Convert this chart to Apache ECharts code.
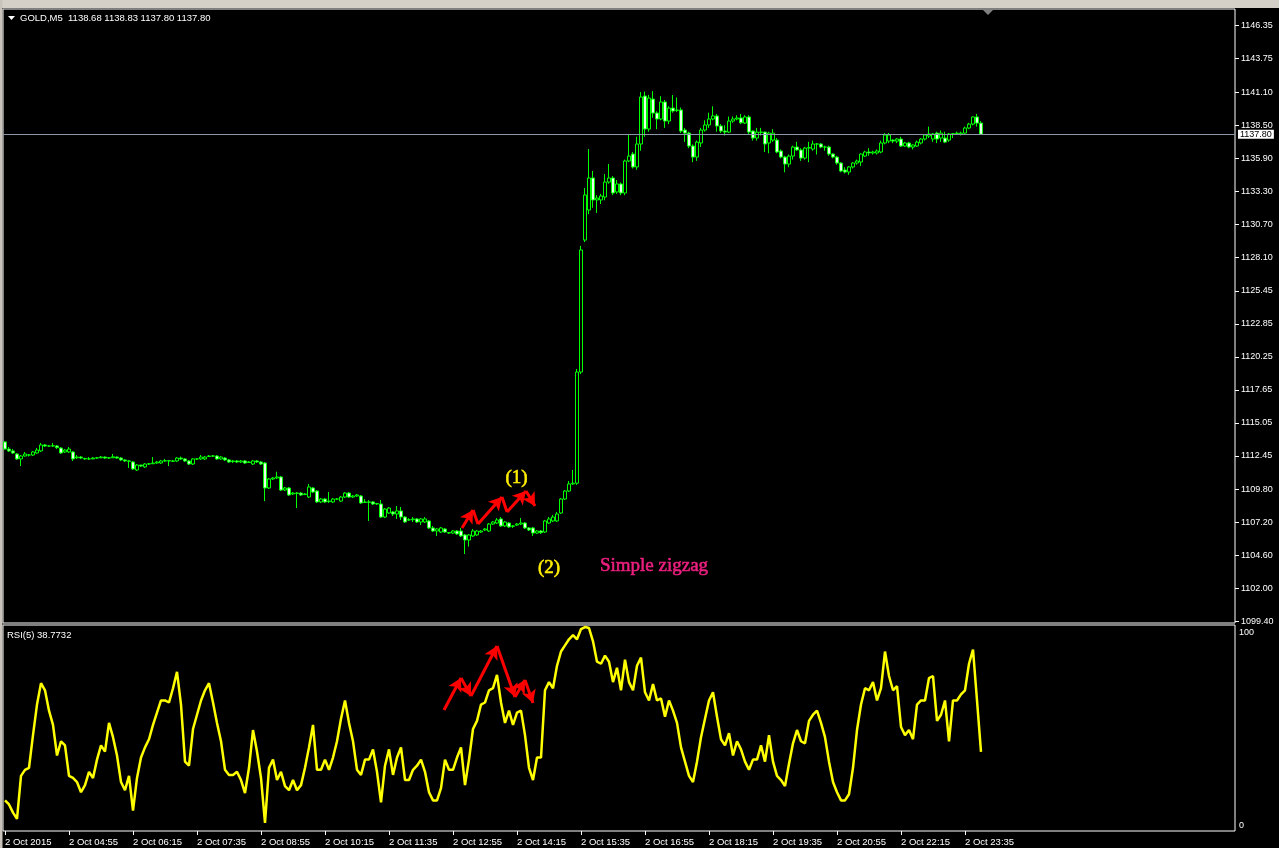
<!DOCTYPE html>
<html><head><meta charset="utf-8">
<script src="https://cdn.jsdelivr.net/npm/echarts@6/dist/echarts.min.js"></script>
<style>html,body{margin:0;padding:0;background:#000;overflow:hidden}#c{width:1279px;height:848px}</style>
</head><body><div id="c"></div>
<script>
// ---------- DATA ----------
const symbolName = 'GOLD,M5';
const timeLabels = ['2 Oct 2015','2 Oct 04:55','2 Oct 06:15','2 Oct 07:35','2 Oct 08:55','2 Oct 10:15','2 Oct 11:35','2 Oct 12:55','2 Oct 14:15','2 Oct 15:35','2 Oct 16:55','2 Oct 18:15','2 Oct 19:35','2 Oct 20:55','2 Oct 22:15','2 Oct 23:35'];
const priceTicks = [1146.35,1143.75,1141.10,1138.50,1135.90,1133.30,1130.70,1128.10,1125.45,1122.85,1120.25,1117.65,1115.05,1112.45,1109.80,1107.20,1104.60,1102.00,1099.40];
const rsiTicks = [0,100];
const lastPrice = 1137.80;
// [open, close, low, high]
const bars = [
[1113.55,1112.99,1112.95,1113.60],[1112.99,1112.84,1112.76,1113.15],[1112.84,1112.68,1112.60,1113.00],[1112.60,1112.21,1112.13,1112.68],
[1112.21,1112.44,1111.65,1112.52],[1112.44,1112.60,1112.40,1112.76],[1112.52,1112.52,1112.40,1112.60],[1112.52,1112.76,1112.44,1112.84],
[1112.68,1112.91,1112.60,1113.07],[1112.84,1113.31,1112.76,1113.47],[1113.31,1113.23,1113.15,1113.39],[1113.23,1113.23,1113.15,1113.31],
[1113.23,1113.25,1113.15,1113.47],[1113.23,1113.10,1113.00,1113.31],[1113.07,1112.68,1112.60,1113.15],[1112.76,1112.91,1112.68,1113.00],
[1112.76,1112.99,1112.68,1113.15],[1112.76,1112.21,1112.05,1112.84],[1112.30,1112.36,1112.20,1112.52],[1112.36,1112.28,1112.20,1112.44],
[1112.25,1112.21,1112.13,1112.30],[1112.21,1112.21,1112.13,1112.36],[1112.21,1112.28,1112.20,1112.36],[1112.28,1112.30,1112.21,1112.36],
[1112.30,1112.36,1112.28,1112.44],[1112.36,1112.28,1112.21,1112.40],[1112.28,1112.30,1112.21,1112.36],[1112.30,1112.38,1112.28,1112.60],
[1112.36,1112.28,1112.21,1112.40],[1112.28,1112.13,1112.05,1112.36],[1112.13,1112.05,1111.97,1112.21],[1112.05,1112.03,1111.50,1112.13],
[1111.97,1111.42,1111.34,1112.05],[1111.34,1111.73,1111.26,1111.81],[1111.73,1111.65,1111.58,1111.73],[1111.58,1111.81,1111.50,1111.89],
[1111.81,1111.83,1111.73,1111.89],[1111.83,1111.89,1111.81,1112.36],[1111.89,1111.97,1111.81,1112.05],[1111.89,1112.05,1111.81,1112.13],
[1112.05,1112.07,1111.97,1112.21],[1112.07,1112.05,1111.65,1112.13],[1112.05,1112.03,1111.97,1112.13],[1112.05,1112.28,1111.97,1112.36],
[1112.28,1112.21,1112.13,1112.40],[1112.21,1112.05,1111.97,1112.28],[1112.05,1111.81,1111.73,1112.13],[1111.81,1112.21,1111.73,1112.28],
[1112.21,1112.21,1112.13,1112.28],[1112.21,1112.36,1112.13,1112.52],[1112.21,1112.36,1112.13,1112.44],[1112.40,1112.44,1112.36,1112.52],
[1112.44,1112.44,1112.36,1112.52],[1112.44,1112.21,1112.13,1112.52],[1112.21,1112.36,1112.13,1112.44],[1112.28,1112.13,1112.05,1112.36],
[1112.13,1111.97,1111.89,1112.21],[1112.00,1112.05,1111.89,1112.13],[1112.05,1111.97,1111.89,1112.13],[1111.97,1112.05,1111.89,1112.13],
[1112.05,1111.89,1111.81,1112.13],[1111.93,1111.97,1111.89,1112.05],[1111.81,1112.05,1111.73,1112.13],[1112.05,1111.97,1111.89,1112.13],
[1111.97,1111.81,1111.73,1112.05],[1111.89,1109.92,1108.89,1111.97],[1109.92,1110.63,1109.84,1110.71],[1110.63,1110.71,1110.55,1110.79],
[1110.71,1110.79,1110.63,1111.20],[1110.79,1109.76,1109.68,1110.87],[1109.76,1109.92,1109.68,1110.00],[1109.92,1109.37,1109.29,1110.00],
[1109.45,1109.52,1109.37,1109.60],[1109.52,1109.50,1108.34,1109.60],[1109.52,1109.37,1109.29,1109.60],[1109.40,1109.45,1109.37,1109.52],
[1109.21,1110.00,1109.13,1110.24],[1109.92,1109.60,1109.52,1110.00],[1109.68,1108.82,1108.74,1109.76],[1108.82,1109.05,1108.74,1109.13],
[1109.05,1108.82,1108.74,1109.13],[1108.85,1108.89,1108.74,1109.60],[1108.82,1109.05,1108.74,1109.13],[1109.05,1109.05,1108.97,1109.13],
[1108.89,1109.21,1108.82,1109.29],[1109.21,1109.52,1109.13,1109.60],[1109.52,1109.21,1109.13,1109.60],[1109.21,1109.29,1109.13,1109.37],
[1109.29,1109.37,1109.21,1109.45],[1109.29,1108.74,1108.66,1109.37],[1108.78,1108.82,1108.74,1109.05],[1108.82,1108.80,1107.32,1108.97],
[1108.82,1108.66,1108.58,1108.89],[1108.66,1108.70,1108.58,1108.74],[1108.66,1107.63,1107.55,1108.97],[1107.63,1108.26,1107.55,1108.34],
[1107.95,1108.34,1107.87,1108.42],[1108.03,1107.87,1107.71,1108.11],[1107.87,1108.11,1107.48,1108.50],[1108.11,1107.63,1107.40,1108.42],
[1107.63,1107.24,1107.16,1107.71],[1107.40,1107.42,1107.32,1107.55],[1107.42,1107.48,1107.24,1107.63],[1107.48,1107.24,1107.16,1107.55],
[1107.24,1107.48,1107.00,1107.55],[1107.24,1107.48,1107.16,1107.63],[1107.32,1106.77,1106.69,1107.40],[1106.77,1106.53,1106.45,1106.93],
[1106.53,1106.69,1106.14,1106.77],[1106.45,1106.77,1106.37,1106.85],[1106.69,1106.45,1106.37,1106.77],[1106.40,1106.37,1106.30,1106.45],
[1106.37,1106.53,1106.30,1106.61],[1106.53,1106.30,1106.22,1106.61],[1106.53,1106.14,1106.06,1106.77],[1106.22,1105.82,1104.72,1106.30],
[1105.82,1106.22,1105.30,1106.30],[1106.14,1106.53,1106.06,1106.69],[1106.22,1106.53,1106.14,1106.61],[1106.45,1106.53,1106.37,1106.61],
[1106.61,1106.69,1106.53,1106.77],[1106.53,1107.08,1106.45,1107.16],[1107.08,1107.24,1107.00,1107.32],[1107.16,1107.40,1107.08,1107.55],
[1107.48,1106.93,1106.85,1107.63],[1106.93,1107.24,1106.85,1107.32],[1107.16,1106.85,1106.77,1107.24],[1106.90,1106.93,1106.77,1107.00],
[1107.00,1107.08,1106.93,1107.16],[1107.08,1107.16,1107.00,1107.55],[1107.16,1106.77,1106.69,1107.24],[1106.77,1106.61,1106.53,1106.85],
[1106.77,1106.37,1106.14,1106.85],[1106.37,1106.53,1106.30,1106.61],[1106.53,1106.40,1106.30,1106.61],[1106.45,1107.32,1106.37,1107.40],
[1107.16,1107.48,1107.08,1107.63],[1107.32,1107.63,1107.24,1107.80],[1107.32,1107.87,1107.24,1108.03],[1107.95,1109.05,1107.87,1109.13],
[1109.05,1109.68,1108.97,1109.76],[1109.68,1110.24,1109.60,1110.47],[1110.24,1110.30,1110.16,1111.34],[1110.30,1119.06,1110.16,1119.30],
[1119.06,1128.68,1118.90,1129.00],[1129.46,1133.01,1129.30,1133.56],[1131.83,1134.35,1131.50,1136.63],[1134.35,1132.62,1132.00,1134.90],
[1132.62,1132.77,1131.60,1133.00],[1132.62,1132.93,1132.30,1133.10],[1132.85,1134.03,1132.60,1134.66],[1134.03,1134.35,1133.90,1135.45],
[1134.35,1133.17,1133.00,1134.50],[1133.25,1133.88,1133.10,1134.19],[1133.88,1133.17,1133.00,1134.00],[1133.17,1135.69,1133.00,1135.80],
[1135.69,1136.08,1135.60,1137.74],[1136.24,1135.22,1135.10,1136.40],[1135.22,1137.03,1135.00,1137.60],[1137.03,1140.73,1136.50,1141.12],
[1140.81,1138.21,1137.60,1141.16],[1138.21,1140.65,1138.00,1140.90],[1140.57,1139.47,1139.10,1141.20],[1139.47,1139.00,1138.20,1139.60],
[1139.00,1140.34,1138.90,1140.80],[1140.34,1138.84,1138.30,1140.50],[1138.84,1139.86,1138.60,1140.00],[1139.86,1139.63,1139.50,1140.89],
[1139.68,1139.71,1139.55,1140.70],[1139.71,1138.05,1137.90,1139.90],[1138.13,1137.89,1137.20,1138.30],[1137.89,1136.87,1136.70,1138.00],
[1136.87,1136.00,1135.60,1137.00],[1136.00,1137.18,1135.70,1137.30],[1137.11,1138.13,1136.80,1138.30],[1138.13,1138.53,1138.00,1138.90],
[1138.53,1139.00,1138.30,1139.50],[1139.00,1139.24,1138.90,1140.00],[1139.24,1138.45,1138.00,1139.40],[1138.45,1138.05,1137.90,1138.60],
[1138.05,1137.97,1137.70,1138.50],[1137.97,1138.84,1137.90,1139.20],[1138.84,1139.00,1138.70,1139.20],[1139.00,1139.08,1138.90,1139.30],
[1139.08,1138.70,1138.60,1139.40],[1138.68,1139.16,1138.60,1139.30],[1139.16,1137.97,1137.80,1139.30],[1138.05,1137.50,1137.30,1138.10],
[1137.50,1137.97,1137.30,1138.30],[1137.97,1137.95,1137.70,1138.30],[1137.97,1137.03,1136.40,1138.00],[1137.11,1137.89,1136.30,1138.00],
[1137.34,1137.89,1137.20,1138.20],[1137.34,1136.40,1136.30,1137.50],[1136.48,1136.00,1135.90,1136.60],[1136.00,1135.45,1134.80,1136.10],
[1135.45,1136.08,1135.20,1136.20],[1136.08,1136.79,1135.80,1136.90],[1136.79,1136.56,1136.50,1137.20],[1136.56,1135.92,1135.70,1136.70],
[1135.92,1136.71,1135.80,1136.80],[1136.71,1136.75,1135.60,1137.20],[1136.63,1137.03,1136.50,1137.30],[1137.03,1137.03,1136.20,1137.10],
[1137.03,1136.79,1136.70,1137.10],[1136.79,1136.79,1136.50,1136.90],[1136.79,1136.24,1136.10,1136.90],[1136.24,1136.00,1135.90,1136.30],
[1136.00,1135.53,1135.40,1136.10],[1135.53,1134.90,1134.80,1135.60],[1134.98,1134.82,1134.70,1135.20],[1134.82,1135.22,1134.60,1135.30],
[1135.22,1135.53,1135.10,1135.60],[1135.53,1135.69,1135.40,1135.80],[1135.61,1136.24,1135.30,1136.30],[1136.08,1136.40,1136.00,1136.50],
[1136.40,1136.32,1136.10,1136.70],[1136.32,1136.40,1136.20,1136.50],[1136.32,1136.48,1136.20,1136.60],[1136.40,1137.11,1136.30,1137.30],
[1137.11,1137.74,1137.00,1137.90],[1137.26,1137.74,1137.10,1137.90],[1137.34,1137.26,1137.10,1137.40],[1137.26,1137.42,1137.10,1137.50],
[1137.42,1136.87,1136.80,1137.60],[1136.87,1137.11,1136.80,1137.20],[1137.11,1136.79,1136.70,1137.20],[1136.79,1136.95,1136.60,1137.00],
[1136.87,1137.18,1136.80,1137.30],[1137.11,1137.42,1137.00,1137.50],[1137.42,1137.74,1137.30,1137.80],[1137.66,1137.82,1137.50,1138.40],
[1137.42,1137.82,1137.20,1137.90],[1137.89,1137.42,1137.10,1138.00],[1137.50,1137.89,1137.20,1138.10],[1137.50,1137.18,1137.10,1138.00],
[1137.34,1137.82,1137.20,1137.90],[1137.82,1137.84,1137.50,1137.90],[1137.85,1137.89,1137.80,1138.00],[1137.82,1137.89,1137.70,1138.00],
[1137.89,1138.29,1137.80,1138.40],[1138.29,1138.60,1138.20,1138.70],[1138.60,1139.16,1138.50,1139.20],[1139.16,1138.68,1138.40,1139.40],
[1138.68,1137.80,1137.80,1138.83]
];
const rsi5 = [
15,13,9,6,27,30,31,47,62,72.5,69,59,52,37,44,42,27,26,24,19,
22.5,29,26,35,42,39,53,46,37,24,20,27,10,26,36,41,45,52,58,64,
64,63,70,78,62,34,32,50,57,64,69,72.5,63,53,44,30,27.5,27.5,29,25,
18.6,31,49.5,39,26,4,31,35,25,29,22,20,25,20,22.5,31,41,52,30,30,
35,30,36,44,55,64,53,44,30,27.5,35,35,40,29,14,32,40,27.5,36,41,
25,25,30,32,35,29,19,15,15,21,35,30,30,36,41,22.5,35,50,54,62,
63,69,70,76.5,63,53,59,52,58,59,47,31,25,36,36,69,73,70,81,88,
91,94,96,94,99,100,99.5,93,83,82,86,83,73,80,69,84,73,69,81,85,
68,64,72,64,65,56,64,59,53,41,34,27,24,34,46,55,64,68,56,45,
42,48,37,44,40,34,30,35,35,42,34,47,34,27,25,22,33,43,49.5,44,
43,54,57,59,53,46,34,24,19,15,15,18,31,49.5,62,70,69,73,64,70,
88,76,69,71,51,47,49.5,45,62,64,64,75,76,54,57,64,44,64,64,67,
69,82,89,64,38.7732
];
// simple zigzag annotations (bar index, value)
const zigPriceX = [114.25,117,118.25,124.25,125.5,130.25,132.5];
const zigPriceY = [1106.77,1108.19,1107.08,1109.21,1108.03,1109.68,1108.50];
const zigPriceHead = [true,false,true,false,true,true];
const zigRsiX = [109.75,114,116.5,123,127.5,130,132];
const zigRsiY = [59.3,75.0,66.2,90.7,65.7,74.0,62.7];
const noteText = ['(1)','(2)','Simple zigzag'];
const noteX = [127.9,136,162.25];
const noteY = [1110.71,1103.62,1103.77];
const noteColor = ['#ffee00','#ffee00','#ea1f7e'];

// ---------- CHART ----------
const slotCount = 308; // bars + right-side shift space
const cats = Array.from({length: slotCount}, (_, i) => String(i));
const FONT = 'Liberation Sans';
const isTimeTick = (idx) => idx % 16 === 0 && idx / 16 < timeLabels.length;

function segs(xs, ys, heads) {
  const out = [];
  for (let i = 0; i < xs.length - 1; i++) {
    const h = heads ? heads[i] : true;
    out.push([{coord: [xs[i], ys[i]], symbol: 'none'},
              {coord: [xs[i+1], ys[i+1]], symbol: h ? 'arrow' : 'none'}]);
  }
  return out;
}
const redLine = {color: '#ff0000', width: 3, type: 'solid'};

const chart = echarts.init(document.getElementById('c'), null, {renderer: 'canvas'});
const last = bars[bars.length - 1];
chart.setOption({
  backgroundColor: '#000',
  animation: false,
  grid: [
    {left: 3, top: 9, width: 1232, height: 614, show: true, borderColor: '#ffffff', borderWidth: 1, backgroundColor: '#000'},
    {left: 3, top: 625, width: 1232, height: 206, show: true, borderColor: '#ffffff', borderWidth: 1, backgroundColor: '#000'}
  ],
  xAxis: [
    {type: 'category', gridIndex: 0, data: cats, boundaryGap: true, show: false},
    {type: 'category', gridIndex: 1, data: cats, boundaryGap: true, position: 'bottom',
      axisLine: {show: false, onZero: false},
      axisTick: {show: true, alignWithLabel: true, interval: (i) => isTimeTick(i), length: 4, lineStyle: {color: '#fff'}},
      axisLabel: {show: true, interval: (i) => isTimeTick(i), formatter: (v, i) => timeLabels[i / 16] || '',
        color: '#fff', fontSize: 9.5, fontFamily: FONT, align: 'left', margin: 6},
      splitLine: {show: false}},
    {type: 'value', gridIndex: 0, min: -0.5, max: slotCount - 0.5, show: false, axisLine: {onZero: false}},
    {type: 'value', gridIndex: 1, min: -0.5, max: slotCount - 0.5, show: false, axisLine: {onZero: false}}
  ],
  yAxis: [
    {type: 'value', gridIndex: 0, position: 'right', min: 1099.28, max: 1147.67,
      axisLine: {show: false, onZero: false},
      axisTick: {show: true, customValues: priceTicks, length: 4, lineStyle: {color: '#fff'}},
      axisLabel: {customValues: priceTicks, formatter: (v) => v.toFixed(2), color: '#fff', fontSize: 9, fontFamily: FONT, margin: 6},
      splitLine: {show: false}},
    {type: 'value', gridIndex: 1, position: 'right', min: 0, max: 101,
      axisLine: {show: false, onZero: false}, axisTick: {show: false},
      axisLabel: {customValues: rsiTicks, color: '#fff', fontSize: 9, fontFamily: FONT, margin: 4,
        formatter: (v) => v === 100 ? '{t|100}' : '{b|0}',
        rich: {t: {padding: [10, 0, 0, 0], color: '#fff', fontSize: 9, fontFamily: FONT},
               b: {padding: [0, 0, 10, 0], color: '#fff', fontSize: 9, fontFamily: FONT}}},
      splitLine: {show: false}}
  ],
  series: [
    {type: 'candlestick', xAxisIndex: 0, yAxisIndex: 0, data: bars, barWidth: 3,
      itemStyle: {color: '#000000', color0: '#e8ffe8', borderColor: '#00ff00', borderColor0: '#00ff00', borderWidth: 1},
      markLine: {silent: true, symbol: 'none', animation: false,
        lineStyle: {color: '#8a98a8', width: 1, type: 'solid'},
        label: {show: true, position: 'end', distance: 3, formatter: lastPrice.toFixed(2),
          backgroundColor: '#ffffff', color: '#000', fontSize: 9, fontFamily: FONT, padding: [0, 2, 0, 2]},
        data: [{yAxis: lastPrice}]}},
    {type: 'line', xAxisIndex: 1, yAxisIndex: 1, data: rsi5, symbol: 'none', silent: true,
      lineStyle: {color: '#ffff00', width: 2.5}},
    {type: 'line', xAxisIndex: 2, yAxisIndex: 0, data: zigPriceX.map((x, i) => [x, zigPriceY[i]]),
      symbol: 'none', silent: true, lineStyle: {opacity: 0},
      markLine: {silent: true, animation: false, symbolSize: [11, 13], lineStyle: redLine, itemStyle: {color: '#ff0000'},
        label: {show: false}, data: segs(zigPriceX, zigPriceY, zigPriceHead)},
      markPoint: {silent: true, animation: false, symbol: 'circle', symbolSize: 0,
        data: noteText.map((t, i) => ({coord: [noteX[i], noteY[i]], value: t,
          label: {show: true, position: 'inside', formatter: t, color: noteColor[i], fontSize: 19, fontFamily: 'Liberation Serif',
            textBorderColor: noteColor[i], textBorderWidth: 0.6}}))}},
    {type: 'line', xAxisIndex: 3, yAxisIndex: 1, data: zigRsiX.map((x, i) => [x, zigRsiY[i]]),
      symbol: 'none', silent: true, lineStyle: {opacity: 0},
      markLine: {silent: true, animation: false, symbolSize: [11, 13], lineStyle: redLine, itemStyle: {color: '#ff0000'},
        label: {show: false}, data: segs(zigRsiX, zigRsiY, null)}}
  ],
  graphic: [
    {type: 'rect', shape: {x: 0, y: 0, width: 1279, height: 8}, style: {fill: '#d4d0c8'}, silent: true},
    {type: 'rect', shape: {x: 0, y: 0, width: 2.5, height: 848}, style: {fill: '#c8c4bc'}, silent: true},
    {type: 'polygon', shape: {points: [[8, 16], [15, 16], [11.5, 20]]}, style: {fill: '#fff'}, silent: true},
    {type: 'text', x: 20, y: 18, style: {text: symbolName + '  ' + last[0].toFixed(2) + ' ' + last[3].toFixed(2) + ' ' + last[2].toFixed(2) + ' ' + last[1].toFixed(2),
      fill: '#fff', font: '9.5px "Liberation Sans"', verticalAlign: 'middle'}, silent: true},
    {type: 'text', x: 7, y: 635, style: {text: 'RSI(5) ' + rsi5[rsi5.length - 1].toFixed(4), fill: '#fff', font: '9.5px "Liberation Sans"', verticalAlign: 'middle'}, silent: true},
    {type: 'polygon', shape: {points: [[983, 10], [993, 10], [988, 15]]}, style: {fill: '#808080'}, silent: true}
  ]
});
</script>
</body></html>
